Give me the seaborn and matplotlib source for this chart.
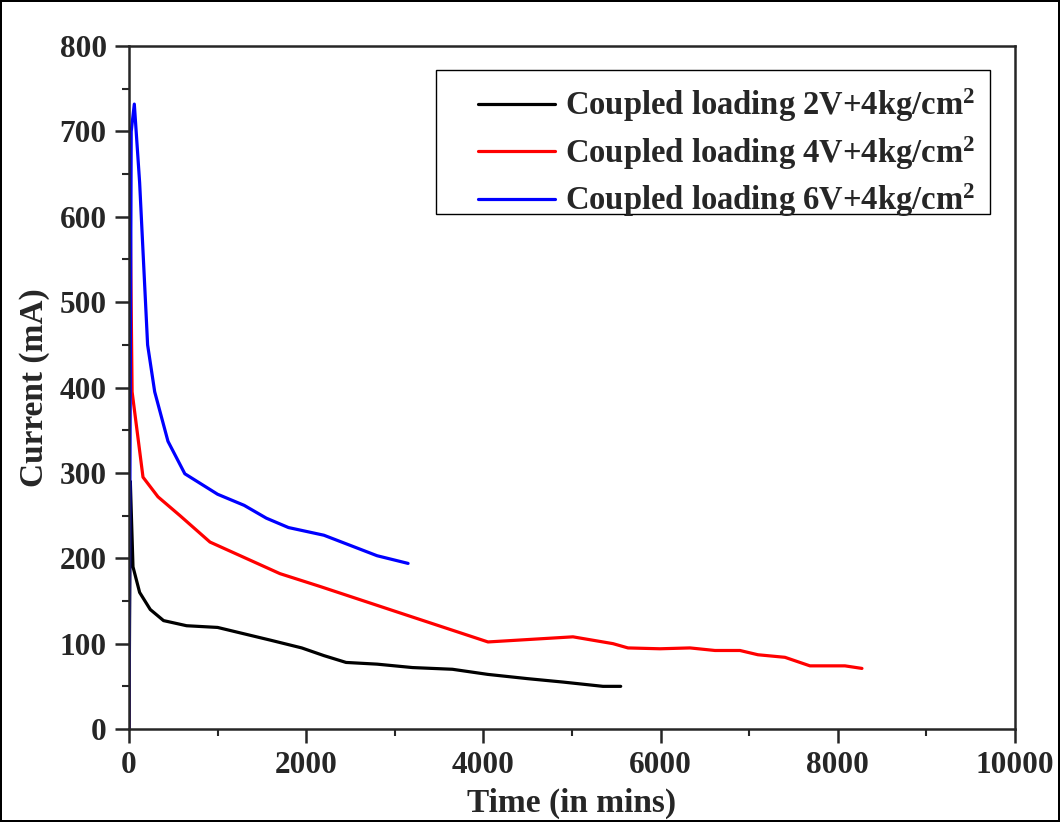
import numpy as np
import pandas as pd
import seaborn as sns
import matplotlib
matplotlib.use("Agg")
import matplotlib.pyplot as plt
from matplotlib.ticker import MultipleLocator
from matplotlib.patches import Rectangle

labels = [r"Coupled loading 2V+4kg/cm$^\mathbf{2}$",
          r"Coupled loading 4V+4kg/cm$^\mathbf{2}$",
          r"Coupled loading 6V+4kg/cm$^\mathbf{2}$"]
colors = ["black", "red", "blue"]

t_2v = [0, 15, 45, 120, 240, 390, 650, 1000, 1600, 1950, 2200, 2450, 2800,
        3200, 3650, 4050, 4500, 4900, 5350, 5550]
i_2v = [0, 290, 190, 160, 140, 127, 121, 119, 104, 95, 86, 78, 76,
        72, 70, 64, 59, 55, 50, 50]

t_4v = [0, 8, 35, 158, 327, 575, 914, 1704, 2156, 3059, 4052, 5011, 5463,
        5632, 5993, 6332, 6614, 6896, 7099, 7404, 7686, 8081, 8273]
i_4v = [0, 660, 395, 295, 272, 250, 219, 182, 167, 136, 102, 108, 100,
        95, 94, 95, 92, 92, 87, 84, 74, 74, 71]

t_6v = [0, 25, 60, 120, 210, 290, 440, 630, 1000, 1300, 1550, 1800, 2200,
        2500, 2800, 3150]
i_6v = [0, 700, 732, 640, 450, 395, 337, 299, 275, 262, 247, 236, 227,
        215, 203, 194]

frames = []
for lab, t, i in zip(labels, [t_2v, t_4v, t_6v], [i_2v, i_4v, i_6v]):
    frames.append(pd.DataFrame({"Time": t, "Current": i, "Series": lab}))
df = pd.concat(frames, ignore_index=True)

sns.set_style("ticks")
plt.rcParams["font.family"] = ["Liberation Serif", "DejaVu Serif"]
plt.rcParams["font.weight"] = "bold"
plt.rcParams["mathtext.fontset"] = "custom"
plt.rcParams["mathtext.rm"] = "Liberation Serif:bold"
plt.rcParams["mathtext.bf"] = "Liberation Serif:bold"
plt.rcParams["mathtext.it"] = "Liberation Serif:bold:italic"

fig = plt.figure(figsize=(10.6, 8.22), dpi=100)
fig.patch.set_edgecolor("black")
fig.patch.set_linewidth(1.5)
ax = fig.add_axes([0.1217, 0.1131, 0.8358, 0.8309])

sns.lineplot(data=df, x="Time", y="Current", hue="Series", palette=colors,
             hue_order=labels, sort=False, estimator=None, linewidth=2.3, ax=ax)

ax.set_xlim(0, 10000)
ax.set_ylim(0, 800)
ax.xaxis.set_major_locator(MultipleLocator(2000))
ax.xaxis.set_minor_locator(MultipleLocator(1000))
ax.yaxis.set_major_locator(MultipleLocator(100))
ax.yaxis.set_minor_locator(MultipleLocator(50))
ax.tick_params(which="major", direction="out", length=10, width=1.8,
               labelsize=22.5, pad=6, top=False, right=False)
ax.tick_params(which="minor", direction="out", length=5, width=1.5,
               top=False, right=False)
for lab in ax.get_xticklabels() + ax.get_yticklabels():
    lab.set_fontweight("bold")
for sp in ax.spines.values():
    sp.set_linewidth(1.8)
    sp.set_visible(True)

ax.set_xlabel("Time (in mins)", fontsize=24, fontweight="bold")
ax.set_ylabel("Current (mA)", fontsize=24, fontweight="bold")
ax.xaxis.set_label_coords(0.5, -0.0864)
ax.yaxis.set_label_coords(-0.089, 0.5)

# legend frame drawn as a box in axes coordinates
ax.add_patch(Rectangle((0.3465, 0.754), 0.6253, 0.211, transform=ax.transAxes,
                       facecolor="white", edgecolor="black", linewidth=1.0,
                       zorder=4))
leg = ax.legend(loc="upper right", bbox_to_anchor=(0.972, 0.962),
                fontsize=23.5, frameon=False, handlelength=2.36,
                borderpad=0.45, labelspacing=0.3, handletextpad=0.3,
                borderaxespad=0.0)
leg.set_zorder(5)
for txt in leg.get_texts():
    txt.set_fontweight("bold")

fig.savefig("out.png", dpi=100)
